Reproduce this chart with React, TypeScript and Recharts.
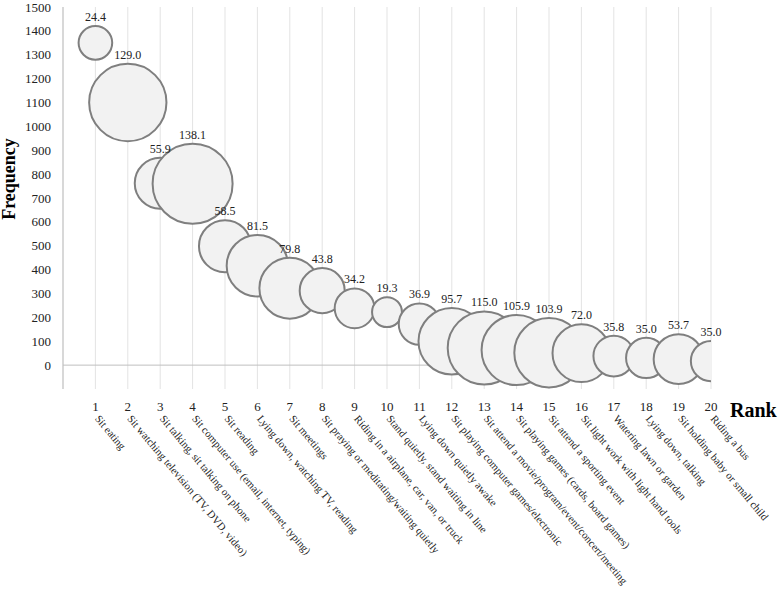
import { CartesianGrid, LabelList, ReferenceLine, Scatter, ScatterChart, XAxis, YAxis, ZAxis } from "recharts";

const ranks = [1, 2, 3, 4, 5, 6, 7, 8, 9, 10, 11, 12, 13, 14, 15, 16, 17, 18, 19, 20];
const frequency = [1350, 1100, 762, 760, 498, 416, 322, 312, 238, 222, 172, 100, 72, 63, 52, 50, 38, 30, 25, 17];
const bubbleSize = [24.4, 129.0, 55.9, 138.1, 58.5, 81.5, 79.8, 43.8, 34.2, 19.3, 36.9, 95.7, 115.0, 105.9, 103.9, 72.0, 35.8, 35.0, 53.7, 35.0];
const activities = [
  "Sit eating",
  "Sit watching television (TV, DVD, video)",
  "Sit talking, sit talking on phone",
  "Sit computer use (email, internet, typing)",
  "Sit reading",
  "Lying down, watching TV, reading",
  "Sit meetings",
  "Sit praying or meditating/waiting quietly",
  "Riding in a airplane, car, van, or truck",
  "Stand quietly, stand waiting in line",
  "Lying down quietly awake",
  "Sit playing computer games/electronic",
  "Sit attend a movie/program/event/concert/meeting",
  "Sit playing games (cards, board games)",
  "Sit attend a sporting event",
  "Sit light work with light hand tools",
  "Watering lawn or garden",
  "Lying down, talking",
  "Sit holding baby or small child",
  "Riding a bus",
];
const yTicks = [0, 100, 200, 300, 400, 500, 600, 700, 800, 900, 1000, 1100, 1200, 1300, 1400, 1500];

const data = ranks.map((rank, i) => ({ rank, freq: frequency[i], size: bubbleSize[i] }));

const serif = "'Liberation Serif', 'Times New Roman', serif";
const maxSize = 138.1;
const maxRadius = 40;

function RankTick(props: any) {
  const { x, y, payload } = props;
  const name = activities[payload.value - 1];
  const sx = x - 1;
  const sy = y + 22;
  return (
    <g>
      <text x={x} y={y + 14} textAnchor="middle" fontSize={13} fontFamily={serif} fill="#222">
        {payload.value}
      </text>
      <text x={sx} y={sy} textAnchor="start" fontSize={10.8} fontFamily={serif} fill="#222" transform={`rotate(50, ${sx}, ${sy})`}>
        {name}
      </text>
    </g>
  );
}

function FreqTick(props: any) {
  const { x, y, payload } = props;
  return (
    <text x={x} y={y + 4.5} textAnchor="end" fontSize={13} fontFamily={serif} fill="#222">
      {payload.value}
    </text>
  );
}

export default function App() {
  return (
    <div style={{ position: "absolute", left: 0, top: 0, width: 778, height: 589, background: "#fff", fontFamily: serif }}>
      <ScatterChart width={778} height={589} margin={{ top: 7, right: 67, bottom: 10, left: 8 }} style={{ fontFamily: serif }}>
        <CartesianGrid horizontal={false} stroke="#e3e3e3" strokeWidth={1} />
        <XAxis
          type="number"
          dataKey="rank"
          domain={[0, 20]}
          ticks={ranks}
          allowDataOverflow
          axisLine={false}
          tickLine={false}
          height={190}
          tick={<RankTick />}
          interval={0}
        />
        <YAxis
          type="number"
          dataKey="freq"
          domain={[-100, 1500]}
          ticks={yTicks}
          allowDataOverflow
          width={55}
          axisLine={{ stroke: "#bfbfbf" }}
          tickLine={false}
          tickMargin={6}
          interval={0}
          tick={<FreqTick />}
        />
        <ZAxis type="number" dataKey="size" domain={[0, maxSize]} range={[0, Math.PI * maxRadius * maxRadius]} />
        <ReferenceLine y={0} stroke="#bfbfbf" strokeWidth={1} />
        <Scatter data={data} fill="#f2f2f2" stroke="#7f7f7f" strokeWidth={2} isAnimationActive={false}>
          <LabelList
            dataKey="size"
            position="top"
            offset={5}
            formatter={(v: any) => Number(v).toFixed(1)}
            style={{ fontSize: 12, fontFamily: serif, fill: "#222", stroke: "none" }}
          />
        </Scatter>
        <text
          x={15}
          y={179}
          textAnchor="middle"
          fontSize={18}
          fontWeight="bold"
          fontFamily={serif}
          fill="#000"
          transform="rotate(-90, 15, 179)"
        >
          Frequency
        </text>
        <text x={730} y={417} fontSize={20} fontWeight="bold" fontFamily={serif} fill="#000">
          Rank
        </text>
      </ScatterChart>
    </div>
  );
}
